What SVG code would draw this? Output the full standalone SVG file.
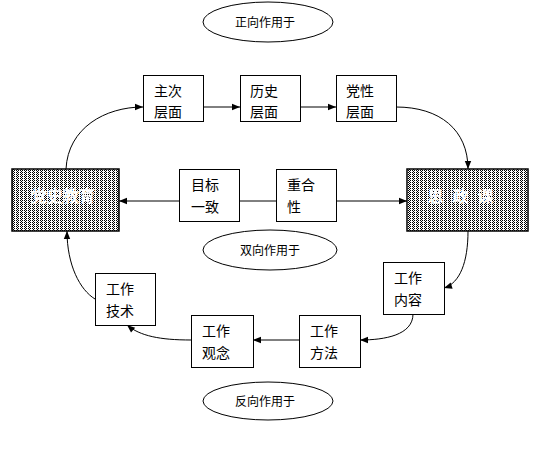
<svg xmlns="http://www.w3.org/2000/svg" width="552" height="471" viewBox="0 0 552 471">
<defs>
<style>
.box{fill:#fff;stroke:#000;stroke-width:1}
.big{fill:url(#dots);stroke:#000;stroke-width:1.5}
.t{font-family:"Noto Sans CJK SC","Liberation Sans",sans-serif;font-size:14px;fill:#000}
.e{font-family:"Noto Sans CJK SC","Liberation Sans",sans-serif;font-size:12px;fill:#000;text-anchor:middle}
.bt{font-family:"Noto Sans CJK SC","Liberation Sans",sans-serif;font-size:16px;font-weight:bold;fill:#fff;text-anchor:middle}
.ell{fill:#fff;stroke:#000;stroke-width:1}
.c{fill:none;stroke:#000;stroke-width:1}
</style>
<pattern id="dots" width="4" height="2" patternUnits="userSpaceOnUse">
<rect width="4" height="2" fill="#fff"/>
<rect x="0" y="0" width="1" height="1" fill="#000"/>
<rect x="2" y="0" width="1" height="1" fill="#000"/>
<rect x="1" y="1" width="1" height="1" fill="#000"/>
</pattern>
<marker id="ah" viewBox="0 0 10 10" refX="10" refY="5" markerWidth="9" markerHeight="8" markerUnits="userSpaceOnUse" orient="auto">
<path d="M0,1 L10,5 L0,9 z" fill="#000"/>
</marker>
</defs>

<g id="connectors">
<path class="c" d="M66,169 C68,128 105,107 143,107" marker-end="url(#ah)"/>
<path class="c" d="M203,107 L240,107" marker-end="url(#ah)"/>
<path class="c" d="M300,107 L336,107" marker-end="url(#ah)"/>
<path class="c" d="M396,107 C440,107 468,130 468,169" marker-end="url(#ah)"/>
<path class="c" d="M336,201 L407,201" marker-end="url(#ah)"/>
<path class="c" d="M276,201 L239,201"/>
<path class="c" d="M179,201 L119,201" marker-end="url(#ah)"/>
<path class="c" d="M468,231 C468,262 460,283 444,288" marker-end="url(#ah)"/>
<path class="c" d="M413,314 C413,335 385,340 360,340" marker-end="url(#ah)"/>
<path class="c" d="M299,340 L253,340" marker-end="url(#ah)"/>
<path class="c" d="M191,340 C160,340 140,336 127,325" marker-end="url(#ah)"/>
<path class="c" d="M95,299 C80,290 67,265 67,231" marker-end="url(#ah)"/>
</g>

<g id="e-forward">
<ellipse class="ell" cx="268" cy="22" rx="65" ry="20"/>
<text class="e" x="265" y="27">正向作用于</text>
</g>
<g id="e-both">
<ellipse class="ell" cx="270" cy="250" rx="67" ry="20"/>
<text class="e" x="270" y="255">双向作用于</text>
</g>
<g id="e-reverse">
<ellipse class="ell" cx="268" cy="401" rx="65" ry="19"/>
<text class="e" x="265" y="406">反向作用于</text>
</g>

<g id="left-big">
<rect class="big" x="12" y="169" width="107" height="62"/>
<text class="bt" x="63" y="202">党史教育</text>
</g>
<g id="right-big">
<rect class="big" x="407" y="169" width="121" height="62"/>
<text class="bt" x="465" y="202" letter-spacing="9">思政课</text>
</g>

<g id="n-zhuci">
<rect class="box" x="143.5" y="75.5" width="60" height="46"/>
<text class="t" x="154" y="96">主次</text>
<text class="t" x="154" y="117">层面</text>
</g>
<g id="n-lishi">
<rect class="box" x="240.5" y="75.5" width="60" height="46"/>
<text class="t" x="250" y="96">历史</text>
<text class="t" x="250" y="117">层面</text>
</g>
<g id="n-dangxing">
<rect class="box" x="336.5" y="75.5" width="60" height="46"/>
<text class="t" x="346" y="96">党性</text>
<text class="t" x="346" y="117">层面</text>
</g>
<g id="n-mubiao">
<rect class="box" x="179.5" y="169.5" width="60" height="52"/>
<text class="t" x="191" y="190">目标</text>
<text class="t" x="191" y="212">一致</text>
</g>
<g id="n-chonghe">
<rect class="box" x="276.5" y="169.5" width="60" height="52"/>
<text class="t" x="287" y="190">重合</text>
<text class="t" x="287" y="212">性</text>
</g>
<g id="n-neirong">
<rect class="box" x="383.5" y="262.5" width="61" height="52"/>
<text class="t" x="394" y="283">工作</text>
<text class="t" x="394" y="305">内容</text>
</g>
<g id="n-fangfa">
<rect class="box" x="299.5" y="315.5" width="61" height="52"/>
<text class="t" x="310" y="336">工作</text>
<text class="t" x="310" y="358">方法</text>
</g>
<g id="n-guannian">
<rect class="box" x="191.5" y="315.5" width="62" height="52"/>
<text class="t" x="202" y="336">工作</text>
<text class="t" x="202" y="358">观念</text>
</g>
<g id="n-jishu">
<rect class="box" x="95.5" y="273.5" width="60" height="52"/>
<text class="t" x="106" y="294">工作</text>
<text class="t" x="106" y="316">技术</text>
</g>
</svg>
